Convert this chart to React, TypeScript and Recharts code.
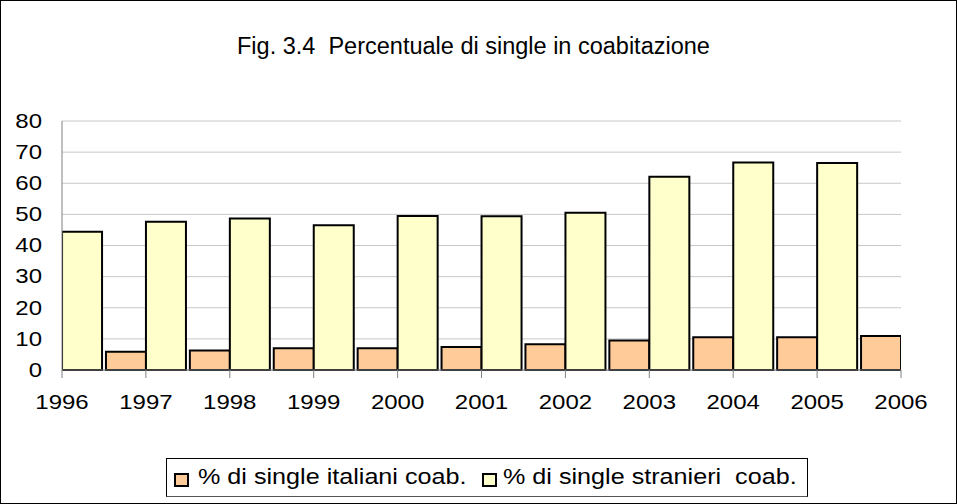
import React from "react";
import { BarChart, Bar, XAxis, YAxis, CartesianGrid, Legend } from "recharts";

const years = [1996, 1997, 1998, 1999, 2000, 2001, 2002, 2003, 2004, 2005, 2006];
const italiani = [null, 5.9, 6.3, 7.0, 7.0, 7.4, 8.3, 9.5, 10.5, 10.5, 10.9];
const stranieri = [44.4, 47.6, 48.7, 46.5, 49.5, 49.4, 50.5, 62.1, 66.7, 66.5, null];
const yTicks = [0, 10, 20, 30, 40, 50, 60, 70, 80];

const labelItaliani = "% di single italiani coab.";
const labelStranieri = "% di single stranieri  coab.";
const title = "Fig. 3.4  Percentuale di single in coabitazione";

const data = years.map((y, i) => ({ year: y, it: italiani[i], st: stranieri[i] }));

const FONT = "'Liberation Sans', Arial, sans-serif";
const ORANGE = "#FFCC99";
const YELLOW = "#FFFFCC";
const STRETCH = 1.2;

const YTick = (props: any) => {
  const { y, payload } = props;
  const tx = 42;
  return (
    <text
      x={tx}
      y={y}
      textAnchor="end"
      dominantBaseline="central"
      fontFamily={FONT}
      fontSize={20}
      fill="#000"
      transform={`translate(${tx},${y}) scale(${STRETCH},1) translate(${-tx},${-y})`}
    >
      {payload.value}
    </text>
  );
};

const XTick = (props: any) => {
  const { x, payload } = props;
  const by = 409;
  return (
    <text
      x={x}
      y={by}
      textAnchor="middle"
      fontFamily={FONT}
      fontSize={20}
      fill="#000"
      transform={`translate(${x},${by}) scale(${STRETCH},1) translate(${-x},${-by})`}
    >
      {payload.value}
    </text>
  );
};

const Swatch = ({ left, color }: { left: number; color: string }) => (
  <div
    style={{
      position: "absolute",
      left,
      top: 473,
      width: 15,
      height: 14,
      border: "2px solid #000",
      boxSizing: "border-box",
      background: color,
    }}
  />
);

const LegendText = ({ left, text }: { left: number; text: string }) => (
  <div
    style={{
      position: "absolute",
      left,
      top: 465,
      fontFamily: FONT,
      fontSize: 21.5,
      lineHeight: "25px",
      whiteSpace: "pre",
      color: "#000",
      transform: "scaleX(1.17)",
      transformOrigin: "left center",
    }}
  >
    {text}
  </div>
);

const LegendBox = () => (
  <div style={{ position: "absolute", left: 0, top: 0, width: 957, height: 504 }}>
    <div
      style={{
        position: "absolute",
        left: 166,
        top: 458,
        width: 642,
        height: 39,
        border: "1px solid #000",
        borderBottomColor: "#555",
        boxSizing: "border-box",
      }}
    />
    <Swatch left={174} color={ORANGE} />
    <LegendText left={198} text={labelItaliani} />
    <Swatch left={482} color={YELLOW} />
    <LegendText left={503} text={labelStranieri} />
  </div>
);

export default function App() {
  return (
    <div style={{ position: "absolute", left: 0, top: 0, width: 957, height: 504, background: "#fff" }}>
      <div
        style={{
          position: "absolute",
          left: 0,
          top: 0,
          width: 957,
          height: 504,
          border: "1px solid #000",
          boxSizing: "border-box",
        }}
      />
      <div
        style={{
          position: "absolute",
          left: 237,
          top: 32,
          fontFamily: FONT,
          fontSize: 23.5,
          lineHeight: "28px",
          whiteSpace: "pre",
          color: "#000",
        }}
      >
        {title}
      </div>
      <BarChart
        width={957}
        height={504}
        data={data}
        margin={{ top: 121, right: 56, left: 0, bottom: 94 }}
        barGap={0}
        barSize={40}
      >
        <CartesianGrid vertical={false} stroke="#c8c8c8" strokeWidth={1} />
        <XAxis
          dataKey="year"
          type="number"
          domain={[1996, 2006]}
          ticks={years}
          allowDataOverflow
          interval={0}
          stroke="#808080"
          tickSize={8}
          height={40}
          tick={<XTick />}
        />
        <YAxis
          domain={[0, 80]}
          ticks={yTicks}
          width={62}
          stroke="#808080"
          tickLine={false}
          interval={0}
          tick={<YTick />}
        />
        <Legend
          verticalAlign="middle"
          align="center"
          layout="horizontal"
          wrapperStyle={{ left: 0, top: 0, width: 957, height: 0, pointerEvents: "none" }}
          content={() => <LegendBox />}
        />
        <Bar dataKey="it" name={labelItaliani} fill={ORANGE} stroke="#000" strokeWidth={2} isAnimationActive={false} />
        <Bar dataKey="st" name={labelStranieri} fill={YELLOW} stroke="#000" strokeWidth={2} isAnimationActive={false} />
      </BarChart>
    </div>
  );
}
